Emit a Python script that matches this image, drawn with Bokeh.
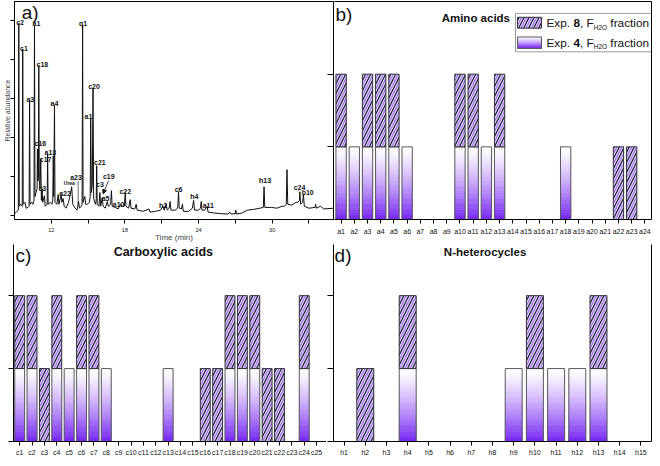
from bokeh.plotting import figure
from bokeh.models import Range1d, FixedTicker, LinearAxis, Arrow, NormalHead
from bokeh.layouts import column, row
from bokeh.embed import file_html
from bokeh.resources import INLINE
from bokeh.core.properties import value

FONT = "Liberation Sans"

# ---------------- data: panel a (chromatogram) ----------------
trace_time = [
    9.00, 9.20, 9.31, 9.35, 9.39, 9.50, 9.63, 9.67, 9.71, 9.85,
    9.95, 10.10, 10.19, 10.23, 10.27, 10.40, 10.50, 10.59, 10.63, 10.67,
    10.75, 10.84, 10.87, 10.91, 10.95, 10.98, 11.02, 11.08, 11.14, 11.19,
    11.25, 11.30, 11.44, 11.50, 11.66, 11.70, 11.74, 11.90, 12.05, 12.12,
    12.16, 12.20, 12.26, 12.30, 12.45, 12.56, 12.62, 12.80, 12.86, 12.96,
    13.05, 13.20, 13.40, 13.55, 13.66, 13.75, 13.95, 14.10, 14.22, 14.30,
    14.45, 14.51, 14.55, 14.59, 14.73, 14.80, 14.95, 15.10, 15.17, 15.21,
    15.27, 15.34, 15.40, 15.45, 15.60, 15.66, 15.70, 15.74, 15.88, 15.96,
    16.02, 16.15, 16.22, 16.40, 16.56, 16.65, 16.83, 16.90, 16.96, 17.20,
    17.45, 17.63, 17.70, 17.95, 18.03, 18.08, 18.30, 18.43, 18.50, 18.80,
    18.92, 19.00, 19.50, 19.96, 20.05, 20.50, 20.90, 21.10, 21.20, 21.35,
    21.45, 21.60, 21.68, 21.75, 22.10, 22.30, 22.37, 22.43, 22.60, 22.69,
    22.76, 23.20, 23.50, 23.60, 23.67, 24.00, 24.15, 24.22, 24.28, 24.50,
    24.70, 24.78, 25.20, 25.80, 26.40, 26.55, 26.65, 27.00, 27.03, 27.10,
    27.50, 28.00, 28.50, 29.00, 29.28, 29.34, 29.40, 29.93, 30.40, 30.81,
    31.00, 31.15, 31.21, 31.27, 31.60, 31.93, 32.10, 32.22, 32.26, 32.32,
    32.48, 32.55, 32.62, 33.00, 33.50, 33.54, 33.60, 33.94, 34.20, 35.00,
]
trace_intensity = [
    0.05, 0.12, 0.15, 4.94, 0.25, 0.30, 0.25, 4.28, 0.30, 0.35,
    0.20, 0.22, 0.25, 2.96, 0.30, 0.35, 0.30, 0.40, 4.90, 0.50,
    0.60, 0.70, 1.72, 0.90, 1.00, 3.86, 0.90, 0.70, 1.47, 0.40,
    0.70, 0.35, 0.52, 0.25, 0.30, 1.59, 0.30, 0.35, 0.30, 0.40,
    1.54, 0.50, 2.84, 0.35, 0.30, 0.55, 0.30, 0.55, 0.35, 0.45,
    0.25, 0.20, 0.35, 0.55, 0.75, 0.30, 0.20, 0.15, 0.37, 0.20,
    0.25, 0.30, 4.90, 0.35, 0.50, 0.30, 0.30, 0.35, 0.50, 2.49,
    0.60, 0.80, 3.28, 0.45, 0.30, 0.40, 1.29, 0.30, 0.25, 0.60,
    0.25, 0.47, 0.25, 0.20, 0.37, 0.25, 0.30, 0.65, 0.25, 0.22,
    0.18, 0.30, 0.25, 0.25, 0.60, 0.25, 0.20, 0.42, 0.20, 0.18,
    0.30, 0.15, 0.12, 0.18, 0.10, 0.12, 0.15, 0.25, 0.15, 0.30,
    0.15, 0.20, 0.37, 0.15, 0.15, 0.20, 0.62, 0.20, 0.18, 0.30,
    0.12, 0.12, 0.20, 0.40, 0.15, 0.15, 0.20, 0.37, 0.15, 0.15,
    0.25, 0.10, 0.08, 0.06, 0.05, 0.10, 0.05, 0.06, 0.15, 0.05,
    0.07, 0.15, 0.17, 0.20, 0.22, 0.75, 0.22, 0.22, 0.20, 0.25,
    0.25, 0.30, 1.19, 0.30, 0.28, 0.35, 0.35, 0.40, 0.62, 0.30,
    0.35, 0.55, 0.25, 0.20, 0.22, 0.30, 0.20, 0.25, 0.18, 0.20,
]
assert len(trace_time) == len(trace_intensity)

peak_names = ["c2", "c1", "a1", "c18", "a3", "q1", "c20", "a4", "a1", "c16",
              "a13", "c17", "c3", "a22", "a23", "c21", "c19", "c3", "a5", "a10",
              "c22", "h2", "c6", "h4", "a11", "h13", "c24", "b10"]
peak_label_time = [9.45, 9.77, 10.79, 11.27, 10.29, 14.59, 15.48, 12.26, 15.03, 11.11,
                   11.92, 11.54, 11.27, 13.12, 14.01, 15.96, 16.68, 15.96, 16.42, 17.49,
                   18.03, 21.11, 22.37, 23.65, 24.80, 29.42, 32.23, 32.90]
peak_label_int = [4.97, 4.30, 4.93, 3.89, 2.99, 4.93, 3.33, 2.89, 2.55, 1.86,
                  1.62, 1.44, 0.71, 0.57, 0.98, 1.38, 1.02, 0.80, 0.44, 0.30,
                  0.63, 0.28, 0.67, 0.49, 0.28, 0.90, 0.73, 0.60]
urea_time, urea_int = [13.47], [0.84]
time_ticks = [12, 18, 24, 30]
time_minor_ticks = [15, 21, 27, 33]

# ---------------- data: panels b, c, d ----------------
amino_labels = ["a%d" % i for i in range(1, 25)]
amino_exp4 = [1, 1, 1, 1, 1, 1, 0, 0, 0, 1, 1, 1, 1, 0, 0, 0, 0, 1, 0, 0, 0, 0, 0, 0]
amino_exp8 = [1, 0, 1, 1, 1, 0, 0, 0, 0, 1, 1, 0, 1, 0, 0, 0, 0, 0, 0, 0, 0, 1, 1, 0]

carboxylic_labels = ["c%d" % i for i in range(1, 27)]
carboxylic_exp4 = [1, 1, 0, 1, 1, 1, 1, 1, 0, 0, 0, 0, 1, 0, 0, 0, 0, 1, 1, 1, 0, 0, 0, 1, 0, 0]
carboxylic_exp8 = [1, 1, 1, 1, 0, 1, 1, 0, 0, 0, 0, 0, 0, 0, 0, 1, 1, 1, 1, 1, 1, 1, 0, 1, 0, 0]

hetero_labels = ["h%d" % i for i in range(1, 16)]
hetero_exp4 = [0, 0, 0, 1, 0, 0, 0, 0, 1, 1, 1, 1, 1, 0, 0]
hetero_exp8 = [0, 1, 0, 1, 0, 0, 0, 0, 0, 1, 0, 0, 1, 0, 0]

# ---------------- styles ----------------
PURPLE = (118, 38, 242)
HATCH_BG = "#9a6cf2"
HATCH_LIGHT = "#ddd0fb"
HATCH_DARK = "#1e1a33"
BAR_LINE = "#5a5a5a"
NSL = 30


def grad_color(f):
    g = f ** 1.3
    r = round(255 + (PURPLE[0] - 255) * g)
    gg = round(255 + (PURPLE[1] - 255) * g)
    b = round(255 + (PURPLE[2] - 255) * g)
    return "#%02x%02x%02x" % (r, gg, b)


def gradient_rects(p, lefts, rights, bottoms, tops):
    L, R, T, B, C = [], [], [], [], []
    for l, r, b0, t0 in zip(lefts, rights, bottoms, tops):
        h = t0 - b0
        for k in range(NSL):
            L.append(l)
            R.append(r)
            T.append(t0 - h * k / NSL)
            B.append(t0 - h * (k + 1) / NSL)
            C.append(grad_color((k + 0.5) / NSL))
    p.quad(left=L, right=R, top=T, bottom=B, fill_color=C, line_color=C, line_width=0.6)
    p.quad(left=lefts, right=rights, top=tops, bottom=bottoms, fill_color=None,
           line_color=BAR_LINE, line_width=1)


def hatch_rects(p, lefts, rights, bottoms, tops):
    p.quad(left=lefts, right=rights, top=tops, bottom=bottoms, fill_color=HATCH_BG,
           line_color=None, hatch_pattern="/", hatch_color=HATCH_LIGHT,
           hatch_weight=3.5, hatch_scale=10)
    p.quad(left=lefts, right=rights, top=tops, bottom=bottoms, fill_color=None,
           line_color="#333333", line_width=1, hatch_pattern="/",
           hatch_color=HATCH_DARK, hatch_weight=1.2, hatch_scale=10)


def draw_bars(p, exp4, exp8, width):
    xs = [i + 0.5 for i in range(len(exp4))]
    gl, gr, gb, gt = [], [], [], []
    hl, hr, hb, ht = [], [], [], []
    for x, v4, v8 in zip(xs, exp4, exp8):
        if v4 > 0:
            gl.append(x - width / 2); gr.append(x + width / 2); gb.append(0); gt.append(v4)
        if v8 > 0:
            hl.append(x - width / 2); hr.append(x + width / 2); hb.append(v4); ht.append(v4 + v8)
    gradient_rects(p, gl, gr, gb, gt)
    hatch_rects(p, hl, hr, hb, ht)


def style_axis(ax, tick_out=4, tick_in=0, size="7px", standoff=3):
    ax.axis_line_color = "black"
    ax.axis_line_width = 1
    ax.major_tick_line_color = "black"
    ax.major_tick_out = tick_out
    ax.major_tick_in = tick_in
    ax.minor_tick_line_color = None
    ax.major_label_text_font = FONT
    ax.major_label_text_font_size = size
    ax.major_label_standoff = standoff
    ax.major_label_text_color = "#111111"


def unlabeled(ax, ticks, tick_out=4, tick_in=0):
    ax.ticker = FixedTicker(ticks=ticks)
    style_axis(ax, tick_out=tick_out, tick_in=tick_in, size="7px", standoff=0)
    ax.major_label_overrides = {t: "" for t in ticks}


def bare_axis(**kw):
    ax = LinearAxis(**kw)
    unlabeled(ax, [], tick_out=0)
    return ax


def cat_axis(ax, labels, standoff):
    ticks = [i + 0.5 for i in range(len(labels))]
    ax.ticker = FixedTicker(ticks=ticks)
    ax.major_label_overrides = {t: l for t, l in zip(ticks, labels)}
    style_axis(ax, tick_out=4, size="7px", standoff=standoff)


def txt(p, x, y, s, size, style="normal", align="left", baseline="middle", color="#111111"):
    p.text(x=[x], y=[y], text=[s], text_font=value(FONT), text_font_size=size,
           text_font_style=style, text_align=align, text_baseline=baseline,
           text_color=color)


def base_fig(w, h, xr, yr, **kw):
    p = figure(width=w, height=h, x_range=xr, y_range=yr, output_backend="svg",
               toolbar_location=None, background_fill_color="white",
               border_fill_color="white", **kw)
    p.grid.visible = False
    return p


# ---------------- panel a ----------------
pa = base_fig(334, 244, Range1d(9, 35), Range1d(-0.09, 5.5),
              min_border_left=13, min_border_right=1, min_border_top=1,
              min_border_bottom=22, outline_line_color="black")
pa.extra_y_ranges = {"lev": Range1d(0, 3)}
pa.line(trace_time, trace_intensity, line_color="#111111", line_width=1)
pa.text(x=peak_label_time, y=peak_label_int, text=peak_names, text_font=value(FONT),
        text_font_size="7px", text_font_style="bold", text_align="center",
        text_baseline="middle", text_color="#111111")
pa.text(x=urea_time, y=urea_int, text=["Urea"], text_font=value(FONT),
        text_font_size="5px", text_font_style="bold", text_align="center",
        text_baseline="middle", text_color="#111111")
pa.segment(x0=[14.19], y0=[0.9], x1=[14.19], y1=[0.3], line_color="#111111", line_width=0.6)
pa.add_layout(Arrow(end=NormalHead(size=4, fill_color="#111111", line_color="#111111"),
                    x_start=16.66, y_start=0.9, x_end=16.22, y_end=0.57,
                    line_color="#111111", line_width=0.8))
txt(pa, 9.59, 5.5, "a)", "19px", baseline="top")

xa = pa.below[0]
xa.ticker = FixedTicker(ticks=time_ticks, minor_ticks=time_minor_ticks)
style_axis(xa, tick_out=4, size="5.5px", standoff=4)
xa.minor_tick_line_color = "black"
xa.minor_tick_out = 4
xa.minor_tick_in = 0
xa.axis_label = "Time (min)"
xa.axis_label_text_font = FONT
xa.axis_label_text_font_size = "8px"
xa.axis_label_text_font_style = "normal"
xa.axis_label_standoff = -2

ya = pa.left[0]
unlabeled(ya, [0, 1, 2, 3, 4, 5], tick_out=4)
ya.axis_label = "Relative abundance"
ya.axis_label_text_font = FONT
ya.axis_label_text_font_size = "7px"
ya.axis_label_text_font_style = "normal"
ya.axis_label_standoff = 0

ra = LinearAxis(y_range_name="lev")
unlabeled(ra, [0, 1, 2], tick_out=0, tick_in=6)
pa.add_layout(ra, "right")

# ---------------- panel b ----------------
pb = base_fig(318, 244, Range1d(0, 24), Range1d(0, 3), y_axis_location=None,
              min_border_left=0, min_border_right=1, min_border_top=1,
              min_border_bottom=22, outline_line_color=None)
cat_axis(pb.below[0], amino_labels, 4)
pb.add_layout(bare_axis(), "above")
pb.add_layout(bare_axis(), "right")
draw_bars(pb, amino_exp4, amino_exp8, 0.78)
txt(pb, 0.08, 2.96, "b)", "19px", baseline="top")
txt(pb, 10.7, 2.77, "Amino acids", "11.5px", style="bold", align="center")

# legend (drawn in panel-b units)
XPX = 317 / 24.0
YPX = 221 / 3.0
lg_left = 24 - 136 / XPX
lg_top = 3 - 12 / YPX
pb.quad(left=[lg_left], right=[24], top=[lg_top], bottom=[3 - 51 / YPX],
        fill_color="white", line_color="#9a9a9a", line_width=1)
sw_l, sw_r = lg_left + 2 / XPX, lg_left + 26 / XPX
hatch_rects(pb, [sw_l], [sw_r], [3 - 27 / YPX], [3 - 16 / YPX])
gradient_rects(pb, [sw_l], [sw_r], [3 - 47.5 / YPX], [3 - 36 / YPX])

W_REG = {"E": 667, "x": 500, "p": 556, ".": 278, " ": 278, ",": 278, "F": 611,
         "H": 722, "2": 556, "O": 778, "f": 278, "r": 333, "a": 556, "c": 500,
         "t": 278, "i": 222, "o": 556, "n": 556, "8": 556, "4": 556}


def text_w(s, size):
    return sum(W_REG.get(ch, 556) for ch in s) / 1000.0 * size


def legend_line(y, num):
    x = lg_left + 31 / XPX
    parts = [("Exp.", 11.8, "normal", 0, 1), (num, 11.8, "bold", 0, 0), (",", 11.8, "normal", 0, 1),
             ("F", 11.8, "normal", 0, 0), ("H2O", 6.5, "normal", -4, 1), ("fraction", 11.8, "normal", 0, 0)]
    for s, size, style, dy, space_after in parts:
        txt(pb, x, y + dy / YPX, s, "%.1fpx" % size, style=style)
        x += (text_w(s, size) + space_after * text_w(" ", 11.8)) / XPX


legend_line(3 - 22 / YPX, "8")
legend_line(3 - 42 / YPX, "4")

# ---------------- panel c ----------------
YEND = 199 / YPX
pc = base_fig(326, 214, Range1d(0, 25.3), Range1d(0, YEND),
              min_border_left=13, min_border_right=0, min_border_top=0,
              min_border_bottom=15, outline_line_color=None)
cat_axis(pc.below[0], carboxylic_labels, 3)
unlabeled(pc.left[0], [0, 1, 2], tick_out=5)
draw_bars(pc, carboxylic_exp4, carboxylic_exp8, 0.8)
txt(pc, 0.16, YEND - 0.01, "c)", "19px", baseline="top")
txt(pc, 12.11, YEND - 8 / YPX, "Carboxylic acids", "12.5px", style="bold", align="center")

# ---------------- panel d ----------------
pd = base_fig(326, 214, Range1d(0, 15), Range1d(0, YEND),
              min_border_left=7, min_border_right=1, min_border_top=0,
              min_border_bottom=15, outline_line_color=None)
cat_axis(pd.below[0], hetero_labels, 3)
unlabeled(pd.left[0], [0, 1, 2], tick_out=6)
pd.add_layout(bare_axis(), "right")
draw_bars(pd, hetero_exp4, hetero_exp8, 0.8)
txt(pd, 0.05, YEND - 0.01, "d)", "19px", baseline="top")
txt(pd, 7.15, YEND - 8 / YPX, "N-heterocycles", "11.5px", style="bold", align="center")

layout = column(row(pa, pb, spacing=0), row(pc, pd, spacing=0), spacing=0)
open("out.html", "w").write(file_html(layout, INLINE))
